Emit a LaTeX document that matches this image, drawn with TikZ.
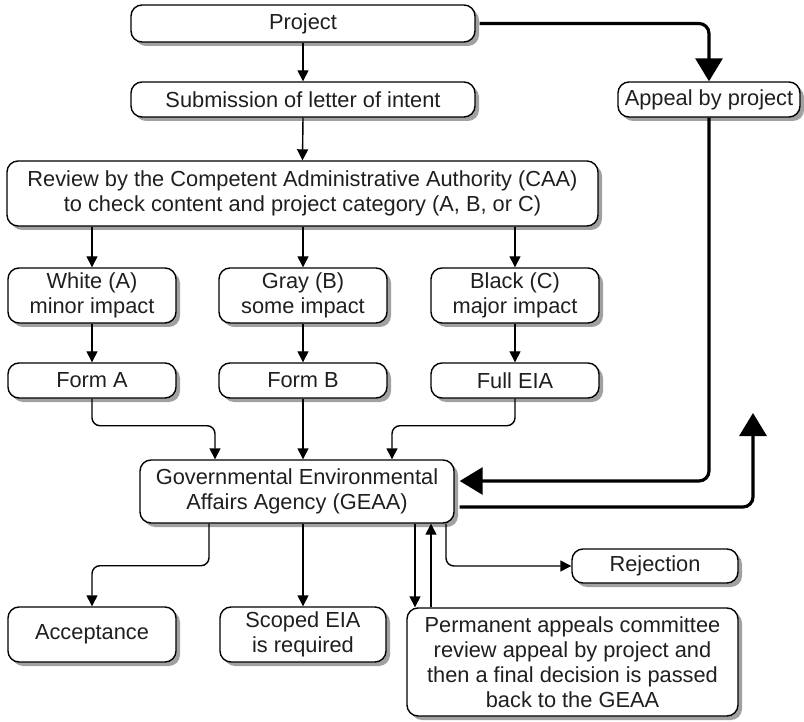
\documentclass[tikz,border=0pt]{standalone}
\usepackage{fontspec}
\setmainfont{Liberation Sans}
\usetikzlibrary{arrows.meta,shadows,calc}

\begin{document}
\begin{tikzpicture}[x=1pt,y=-1pt,
  box/.style={draw=black, line width=1.4pt, fill=white, rounded corners=11pt,
    align=center, inner sep=0pt, text=black!88,
    font=\fontsize{21.8}{25}\selectfont,
    drop shadow={shadow xshift=4pt, shadow yshift=-4pt, fill=black!37, opacity=1}},
  conn/.style={line width=1.4pt, rounded corners=8pt,
    -{Triangle[width=11pt,length=11pt]}},
  heavy/.style={line width=3.2pt, rounded corners=10pt,
    -{Triangle[width=27pt,length=23pt]}}
]
\useasboundingbox (0,0) rectangle (804,722);

% top row
\node[box, minimum width=344pt, minimum height=37pt] (proj) at (303,23.5) {Project};
\node[box, minimum width=344pt, minimum height=35pt] (sub) at (303,99.5) {Submission of letter of intent};
\node[box, minimum width=182pt, minimum height=35pt] (appeal) at (709,99.5) {Appeal by project};

% review by the authority
\node[box, minimum width=591pt, minimum height=65pt] (caa) at (302.5,193.5)
  {Review by the Competent Administrative Authority (CAA)\\to check content and project category (A, B, or C)};

% categories
\node[box, minimum width=168pt, minimum height=55pt] (white) at (92,295.5) {White (A)\\minor impact};
\node[box, minimum width=168pt, minimum height=55pt] (gray) at (303,295.5) {Gray (B)\\some impact};
\node[box, minimum width=168pt, minimum height=55pt] (black) at (515,295.5) {Black (C)\\major impact};

% forms
\node[box, minimum width=168pt, minimum height=35pt] (formA) at (92,380.5) {Form A};
\node[box, minimum width=168pt, minimum height=35pt] (formB) at (303,380.5) {Form B};
\node[box, minimum width=168pt, minimum height=35pt] (fullEIA) at (515,380.5) {Full EIA};

% agency
\node[box, minimum width=314pt, minimum height=63pt] (geaa) at (297,491.5)
  {Governmental Environmental\\Affairs Agency (GEAA)};

% outcomes
\node[box, minimum width=168pt, minimum height=55pt] (accept) at (92,634.5) {Acceptance};
\node[box, minimum width=166pt, minimum height=55pt] (scoped) at (303,634.5) {Scoped EIA\\is required};
\node[box, minimum width=166pt, minimum height=34pt] (reject) at (655,566) {Rejection};
\node[box, minimum width=331pt, minimum height=108pt] (perm) at (572.5,662)
  {Permanent appeals committee\\review appeal by project and\\then a final decision is passed\\back to the GEAA};

% connectors
\draw[conn] (proj.south) -- (sub.north);
\draw[conn] (sub.south) -- (caa.north);
\draw[conn] (caa.south -| white.north) -- (white.north);
\draw[conn] (caa.south -| gray.north) -- (gray.north);
\draw[conn] (caa.south -| black.north) -- (black.north);
\draw[conn] (white.south) -- (formA.north);
\draw[conn] (gray.south) -- (formB.north);
\draw[conn] (black.south) -- (fullEIA.north);

\draw[conn] (formA.south) -- ++(0,27) -| ([xshift=-82pt]geaa.north);
\draw[conn] (formB.south) -- (formB.south |- geaa.north);
\draw[conn] (fullEIA.south) -- ++(0,27) -| ([xshift=95pt]geaa.north);

% appeal loop
\coordinate (upend) at (753,413);
\draw[heavy] ([xshift=4pt]proj.east) -| (appeal.north);
\draw[heavy] (appeal.south) |- ([xshift=5pt,yshift=10.5pt]geaa.east);
\draw[heavy] ([xshift=5pt,yshift=-15.5pt]geaa.east) -| (upend);

% decisions
\coordinate (ga) at ([xshift=-88pt]geaa.south);
\coordinate (gd) at ([xshift=118pt]geaa.south);
\coordinate (gu) at ([xshift=134pt]geaa.south);
\coordinate (gr) at ([xshift=149pt]geaa.south);
\draw[conn] (ga) -- ++(0,42) -| (accept.north);
\draw[conn] (scoped.north |- geaa.south) -- (scoped.north);
\draw[conn] (gd) -- (gd |- perm.north);
\draw[conn] (gu |- perm.north) -- (gu);
\draw[conn] (gr) |- (reject.west);
\end{tikzpicture}
\end{document}
